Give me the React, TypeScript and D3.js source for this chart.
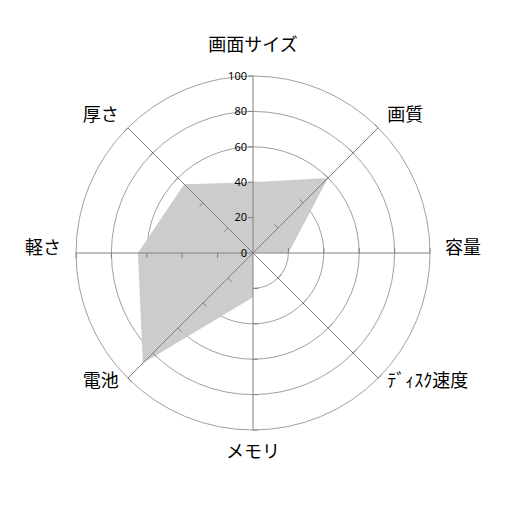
import React from 'react';
import * as d3 from 'd3';

const categories = ['画面サイズ', '画質', '容量', 'ﾃﾞｨｽｸ速度', 'メモリ', '電池', '軽さ', '厚さ'];
const values = [40, 60, 20, 0, 25, 88, 65, 55];
const tickValues = [0, 20, 40, 60, 80, 100];

const width = 506;
const height = 506;
const cx = 253;
const cy = 253;

const App: React.FC = () => {
  const r = d3.scaleLinear().domain([0, 100]).range([0, 177]);
  const step = (2 * Math.PI) / categories.length;
  const angle = (i: number) => i * step;

  const area = d3
    .lineRadial<number>()
    .angle((_, i) => angle(i))
    .radius(d => r(d))
    .curve(d3.curveLinearClosed);

  const labelPos = (i: number) => {
    const a = angle(i);
    const s = Math.sin(a);
    const c = Math.cos(a);
    const anchor = s > 0.1 ? 'start' : s < -0.1 ? 'end' : 'middle';
    let x = cx;
    let y = cy;
    if (Math.abs(s) < 0.1) {
      // top / bottom
      y = c > 0 ? cy - 202 : cy + 205;
    } else if (Math.abs(c) < 0.1) {
      x = cx + s * 192;
      y = cy + 1;
    } else {
      x = cx + s * 190;
      y = cy - c * 188 + 1;
    }
    return { x, y, anchor };
  };

  return (
    <div style={{ position: 'absolute', left: 0, top: 0 }}>
      <svg width={width} height={height} style={{ display: 'block', background: '#fff' }}>
        {/* grid circles */}
        <g fill="none" stroke="#a0a0a0" strokeWidth={1}>
          {tickValues.filter(t => t > 0).map(t => (
            <circle key={t} cx={cx} cy={cy} r={r(t)} />
          ))}
        </g>

        {/* series */}
        <path d={area(values) || ''} transform={`translate(${cx},${cy})`} fill="#cccccc" stroke="none" />

        {/* axes with ticks */}
        <g stroke="#808080" strokeWidth={1}>
          {categories.map((c, i) => {
            const a = angle(i);
            const s = Math.sin(a);
            const co = Math.cos(a);
            return (
              <g key={c}>
                <line x1={cx} y1={cy} x2={cx + s * r(100)} y2={cy - co * r(100)} />
                {tickValues.filter(t => t > 0).map(t => {
                  const px = cx + s * r(t);
                  const py = cy - co * r(t);
                  return <line key={t} x1={px} y1={py} x2={px - co * 5} y2={py - s * 5} />;
                })}
              </g>
            );
          })}
        </g>

        {/* value labels */}
        <g fontFamily="'Noto Sans', sans-serif" fontSize={11} fill="#000" textAnchor="end">
          {tickValues.map(t => (
            <text key={t} x={cx - 6} y={cy - r(t)} dy="0.35em">
              {t}
            </text>
          ))}
        </g>

        {/* category labels */}
        <g fontFamily="'Noto Sans CJK JP', sans-serif" fontSize={18} fill="#000">
          {categories.map((c, i) => {
            const p = labelPos(i);
            return (
              <text key={c} x={p.x} y={p.y} textAnchor={p.anchor}>
                {c}
              </text>
            );
          })}
        </g>
      </svg>
    </div>
  );
};

export default App;
